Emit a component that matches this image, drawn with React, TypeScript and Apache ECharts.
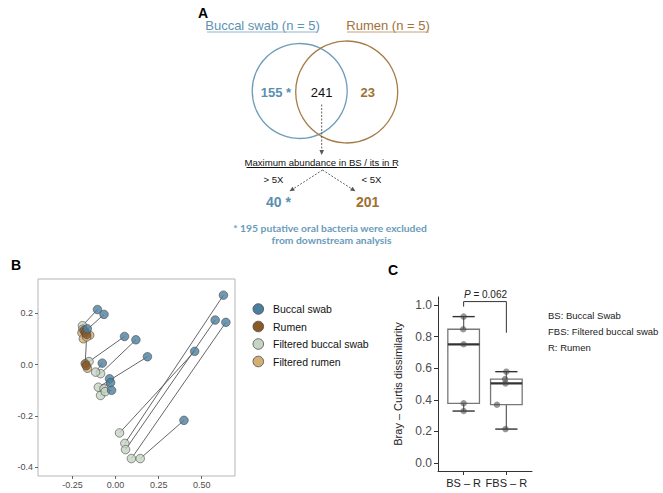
import React, { useEffect, useRef } from "react";
import * as echarts from "echarts";

// ---------- Panel B data (PCoA coordinates) ----------
const buccalX = [-0.105, -0.067, -0.164, 0.052, 0.118, 0.185, -0.077, -0.035, -0.029, -0.023, 0.626, 0.578, 0.640, 0.459, 0.397];
const buccalY = [0.215, 0.196, 0.140, 0.110, 0.097, 0.031, 0.006, -0.055, -0.070, -0.100, 0.271, 0.174, 0.165, 0.052, -0.217];
const filteredBuccalX = [-0.192, -0.180, -0.190, -0.154, -0.087, -0.100, -0.116, -0.067, -0.087, -0.060, 0.054, 0.058, 0.092, 0.023, 0.143];
const filteredBuccalY = [0.152, 0.128, 0.138, 0.012, -0.035, -0.088, -0.029, -0.094, -0.120, -0.105, -0.307, -0.331, -0.366, -0.266, -0.366];
const rumenX = [-0.183, -0.176, -0.168, -0.176, -0.170];
const rumenY = [0.134, 0.126, 0.118, 0.004, -0.004];
const filteredRumenX = [-0.195, -0.187, -0.150, -0.168, -0.163];
const filteredRumenY = [0.124, 0.101, 0.115, 0.108, -0.014];
const bXTicks = [-0.25, 0, 0.25, 0.5];
const bYTicks = [-0.4, -0.2, 0, 0.2];
const bLegend = ["Buccal swab", "Rumen", "Filtered buccal swab", "Filtered rumen"];

// ---------- Panel C data (Bray-Curtis dissimilarity) ----------
const cCategories = ["BS – R", "FBS – R"];
const bsValues = [0.926, 0.846, 0.751, 0.378, 0.329];
const fbsValues = [0.578, 0.531, 0.504, 0.369, 0.215];
const bsJitter = [1.0, 0.99, 1.0, 1.0, 1.0];
const fbsJitter = [2.0, 1.97, 1.98, 1.78, 1.98];
const cYTicks = [0, 0.2, 0.4, 0.6, 0.8, 1.0];
const pValueText = "0.062";
const cNotes = ["BS: Buccal Swab", "FBS: Filtered buccal swab", "R: Rumen"];

// ---------- Panel A data (Venn) ----------
const vennBuccalOnly = "155 *";
const vennShared = "241";
const vennRumenOnly = "23";
const splitHigh = "40 *";
const splitLow = "201";

const FONT = "Liberation Sans, Arial, sans-serif";
const C_BLUE = "#4b7f9f";
const C_BROWN = "#8a5a26";
const C_GREEN = "#c5d5c3";
const C_TAN = "#d3af74";

function quantile(sorted: number[], p: number) {
  const h = (sorted.length - 1) * p;
  const lo = Math.floor(h);
  const hi = Math.ceil(h);
  return sorted[lo] + (sorted[hi] - sorted[lo]) * (h - lo);
}
function boxStats(vals: number[]) {
  const s = [...vals].sort((a, b) => a - b);
  const q1 = quantile(s, 0.25);
  const med = quantile(s, 0.5);
  const q3 = quantile(s, 0.75);
  const iqr = q3 - q1;
  const lo = Math.min(...s.filter((v) => v >= q1 - 1.5 * iqr));
  const hi = Math.max(...s.filter((v) => v <= q3 + 1.5 * iqr));
  return [lo, q1, med, q3, hi];
}

export default function App() {
  const ref = useRef<HTMLDivElement>(null);
  useEffect(() => {
    if (!ref.current) return;
    const chart = echarts.init(ref.current, undefined, { renderer: "svg" });

    const pts = (xs: number[], ys: number[]) => xs.map((x, i) => [x, ys[i]]);
    const pairLines = [
      ...buccalX.map((x, i) => ({ coords: [[x, buccalY[i]], [filteredBuccalX[i], filteredBuccalY[i]]] })),
      ...rumenX.map((x, i) => ({ coords: [[x, rumenY[i]], [filteredRumenX[i], filteredRumenY[i]]] })),
    ];
    const scatterStyle = (color: string) => ({ color, borderColor: "#4a4a4a", borderWidth: 0.8 });

    const boxData = [
      [1, ...boxStats(bsValues)],
      [2, ...boxStats(fbsValues)],
    ];
    const cPoints = [
      ...bsValues.map((v, i) => [bsJitter[i], v]),
      ...fbsValues.map((v, i) => [fbsJitter[i], v]),
    ];
    const bsTop = Math.max(...bsValues);
    const fbsTop = Math.max(...fbsValues);
    const bracketY = 1.021;

    const legendColors = [C_BLUE, C_BROWN, C_GREEN, C_TAN];

    const arrowHead = (x: number, y: number, angle: number) => {
      const len = 5, w = 2.3;
      const ca = Math.cos(angle), sa = Math.sin(angle);
      const bx = x - len * ca, by = y - len * sa;
      return {
        type: "polygon",
        shape: { points: [[x, y], [bx - w * sa, by + w * ca], [bx + w * sa, by - w * ca]] },
        style: { fill: "#555" },
      };
    };
    const dashed = (x1: number, y1: number, x2: number, y2: number) => ({
      type: "line",
      shape: { x1, y1, x2, y2 },
      style: { stroke: "#555", lineWidth: 0.9, lineDash: [2, 1.5] },
    });
    const txt = (x: number, y: number, text: string, extra: any = {}) => ({
      type: "text",
      x,
      y,
      style: { text, fontFamily: FONT, fontSize: 10, fill: "#222", align: "center", verticalAlign: "middle", ...extra },
    });
    const ul = (x1: number, x2: number, y: number, stroke: string) => ({
      type: "line",
      shape: { x1, y1: y, x2, y2: y },
      style: { stroke, lineWidth: 1 },
    });

    const graphic: any[] = [
      // panel labels
      txt(203, 13, "A", { fontWeight: "bold", fontSize: 14, fill: "#000" }),
      txt(16, 265, "B", { fontWeight: "bold", fontSize: 14, fill: "#000" }),
      txt(393, 270, "C", { fontWeight: "bold", fontSize: 14, fill: "#000" }),
      // Venn titles
      txt(262.5, 25.5, "Buccal swab (n = 5)", { fontSize: 13, fill: "#5d92b3" }),
      ul(207, 318, 32, "#8fb6cc"),
      txt(388, 25.5, "Rumen (n = 5)", { fontSize: 13, fill: "#a0723a" }),
      ul(347, 429, 32, "#c3a27a"),
      // Venn circles
      { type: "circle", shape: { cx: 299.7, cy: 91, r: 47.5 }, style: { fill: "none", stroke: "#6e9dba", lineWidth: 1.3 } },
      { type: "circle", shape: { cx: 346.7, cy: 92, r: 51 }, style: { fill: "none", stroke: "#a67c48", lineWidth: 1.3 } },
      txt(276, 92.5, vennBuccalOnly, { fontSize: 13, fontWeight: "bold", fill: "#5a8fb0" }),
      txt(321.7, 92.5, vennShared, { fontSize: 13, fill: "#111" }),
      txt(367.7, 92.5, vennRumenOnly, { fontSize: 13, fontWeight: "bold", fill: "#a0702f" }),
      // arrows
      dashed(321.7, 104.5, 321.7, 150),
      arrowHead(321.7, 155, Math.PI / 2),
      txt(321.7, 162.5, "Maximum abundance in BS / its in R", { fontSize: 9.6, fill: "#111" }),
      ul(246.5, 397, 167.5, "#111"),
      txt(273.5, 179, "> 5X", { fontSize: 9.6, fill: "#111" }),
      txt(371.5, 179, "< 5X", { fontSize: 9.6, fill: "#111" }),
      dashed(322.5, 170, 293, 189),
      arrowHead(289.5, 191.3, Math.atan2(191.3 - 170, 289.5 - 322.5)),
      dashed(322.5, 170, 352, 189),
      arrowHead(355.5, 191.3, Math.atan2(191.3 - 170, 355.5 - 322.5)),
      txt(278.5, 201.5, splitHigh, { fontSize: 14, fontWeight: "bold", fill: "#5a8fb0" }),
      txt(367.7, 201.5, splitLow, { fontSize: 14, fontWeight: "bold", fill: "#a0702f" }),
      txt(330, 227.5, "* 195 putative oral bacteria were excluded", { fontFamily: "Lato, sans-serif", fontSize: 10.3, fontWeight: "bold", fill: "#6a9bba" }),
      txt(331.5, 239.5, "from downstream analysis", { fontFamily: "Lato, sans-serif", fontSize: 10.3, fontWeight: "bold", fill: "#6a9bba" }),
      // Panel B legend
      ...bLegend.flatMap((name, i) => [
        { type: "circle", shape: { cx: 258.3, cy: 309 + i * 17.5, r: 5.3 }, style: { fill: legendColors[i], stroke: "#4a4a4a", lineWidth: 0.8 } },
        txt(273, 309 + i * 17.5, name, { fontSize: 10.5, align: "left", fill: "#111" }),
      ]),
      // Panel C significance text
      {
        type: "text",
        x: 485.5,
        y: 294.5,
        style: {
          text: "{i|P} = " + pValueText,
          fontFamily: FONT,
          fontSize: 10,
          fill: "#222",
          align: "center",
          verticalAlign: "middle",
          rich: { i: { fontStyle: "italic", fontFamily: FONT, fontSize: 10, fill: "#222" } },
        },
      },
      // Panel C notes
      ...cNotes.map((n, i) => txt(548, 315 + i * 16.3, n, { fontSize: 9.5, align: "left", fill: "#222" })),
    ];

    chart.setOption({
      animation: false,
      backgroundColor: "#fff",
      textStyle: { fontFamily: FONT },
      graphic,
      grid: [
        { left: 38, top: 279, width: 197, height: 197, show: true, borderColor: "#b5b5b5", borderWidth: 1, backgroundColor: "#fff" },
        { left: 438, top: 297, width: 94, height: 174 },
      ],
      xAxis: [
        {
          gridIndex: 0,
          type: "value",
          position: "bottom",
          min: -0.45,
          max: 0.693,
          axisLine: { show: false, onZero: false },
          splitLine: { show: false },
          axisTick: { show: true, customValues: bXTicks, length: 3, lineStyle: { color: "#666" } },
          axisLabel: { customValues: bXTicks, formatter: (v: number) => v.toFixed(2), fontSize: 9, color: "#4d4d4d", margin: 4 },
        },
        {
          gridIndex: 1,
          type: "value",
          position: "bottom",
          min: 0.4,
          max: 2.6,
          axisLine: { show: true, onZero: false, lineStyle: { color: "#333", width: 1 } },
          splitLine: { show: false },
          axisTick: { show: true, customValues: [1, 2], length: 4, lineStyle: { color: "#333" } },
          axisLabel: { customValues: [1, 2], formatter: (v: number) => cCategories[Math.round(v) - 1] ?? "", fontSize: 11, color: "#222", margin: 6 },
        },
      ],
      yAxis: [
        {
          gridIndex: 0,
          type: "value",
          position: "left",
          min: -0.434,
          max: 0.334,
          axisLine: { show: false, onZero: false },
          splitLine: { show: false },
          axisTick: { show: true, customValues: bYTicks, length: 3, lineStyle: { color: "#666" } },
          axisLabel: { customValues: bYTicks, formatter: (v: number) => v.toFixed(1), fontSize: 9, color: "#4d4d4d", margin: 5 },
        },
        {
          gridIndex: 1,
          type: "value",
          position: "left",
          min: -0.05,
          max: 1.05,
          name: "Bray – Curtis dissimilarity",
          nameLocation: "middle",
          nameRotate: 90,
          nameGap: 35,
          nameTextStyle: { fontSize: 11, color: "#222" },
          axisLine: { show: true, onZero: false, lineStyle: { color: "#333", width: 1 } },
          splitLine: { show: false },
          axisTick: { show: true, customValues: cYTicks, length: 4, lineStyle: { color: "#333" } },
          axisLabel: { customValues: cYTicks, formatter: (v: number) => v.toFixed(1), fontSize: 12, color: "#4d4d4d", margin: 6 },
        },
      ],
      series: [
        {
          type: "lines",
          coordinateSystem: "cartesian2d",
          xAxisIndex: 0,
          yAxisIndex: 0,
          data: pairLines,
          lineStyle: { color: "#555", width: 0.9, opacity: 1 },
          silent: true,
          z: 1,
        },
        { type: "scatter", name: "Filtered buccal swab", xAxisIndex: 0, yAxisIndex: 0, data: pts(filteredBuccalX, filteredBuccalY), symbolSize: 8.5, itemStyle: scatterStyle(C_GREEN), z: 2 },
        { type: "scatter", name: "Filtered rumen", xAxisIndex: 0, yAxisIndex: 0, data: pts(filteredRumenX, filteredRumenY), symbolSize: 8.5, itemStyle: scatterStyle(C_TAN), z: 3 },
        { type: "scatter", name: "Rumen", xAxisIndex: 0, yAxisIndex: 0, data: pts(rumenX, rumenY), symbolSize: 8.5, itemStyle: scatterStyle(C_BROWN), z: 3 },
        { type: "scatter", name: "Buccal swab", xAxisIndex: 0, yAxisIndex: 0, data: pts(buccalX, buccalY), symbolSize: 8.5, itemStyle: scatterStyle(C_BLUE), z: 4 },
        {
          type: "custom",
          xAxisIndex: 1,
          yAxisIndex: 1,
          data: boxData,
          z: 2,
          renderItem: (params: any, api: any) => {
            const x = api.value(0);
            const lo = api.coord([x, api.value(1)]);
            const q1 = api.coord([x, api.value(2)]);
            const md = api.coord([x, api.value(3)]);
            const q3 = api.coord([x, api.value(4)]);
            const hi = api.coord([x, api.value(5)]);
            const bw = api.size([0.74, 0])[0];
            const cw = api.size([0.52, 0])[0];
            return {
              type: "group",
              children: [
                { type: "line", shape: { x1: lo[0], y1: lo[1], x2: hi[0], y2: hi[1] }, style: { stroke: "#666", lineWidth: 1.3 } },
                { type: "line", shape: { x1: lo[0] - cw / 2, y1: lo[1], x2: lo[0] + cw / 2, y2: lo[1] }, style: { stroke: "#333", lineWidth: 1.4 } },
                { type: "line", shape: { x1: hi[0] - cw / 2, y1: hi[1], x2: hi[0] + cw / 2, y2: hi[1] }, style: { stroke: "#333", lineWidth: 1.4 } },
                { type: "rect", shape: { x: q3[0] - bw / 2, y: q3[1], width: bw, height: q1[1] - q3[1] }, style: { fill: "#fff", stroke: "#777", lineWidth: 1.3 } },
                { type: "line", shape: { x1: md[0] - bw / 2, y1: md[1], x2: md[0] + bw / 2, y2: md[1] }, style: { stroke: "#333", lineWidth: 2.2 } },
              ],
            };
          },
        },
        {
          type: "scatter",
          xAxisIndex: 1,
          yAxisIndex: 1,
          data: cPoints,
          symbolSize: 6.5,
          itemStyle: { color: "rgba(70,70,70,0.7)" },
          z: 5,
        },
        {
          type: "line",
          xAxisIndex: 1,
          yAxisIndex: 1,
          data: [[1, bsTop + 0.063], [1, bracketY], [2, bracketY], [2, fbsTop + 0.246]],
          symbol: "none",
          lineStyle: { color: "#333", width: 1 },
          silent: true,
          z: 6,
        },
      ],
    });
    return () => chart.dispose();
  }, []);
  return <div ref={ref} style={{ position: "fixed", left: 0, top: 0, width: 663, height: 493 }} />;
}
